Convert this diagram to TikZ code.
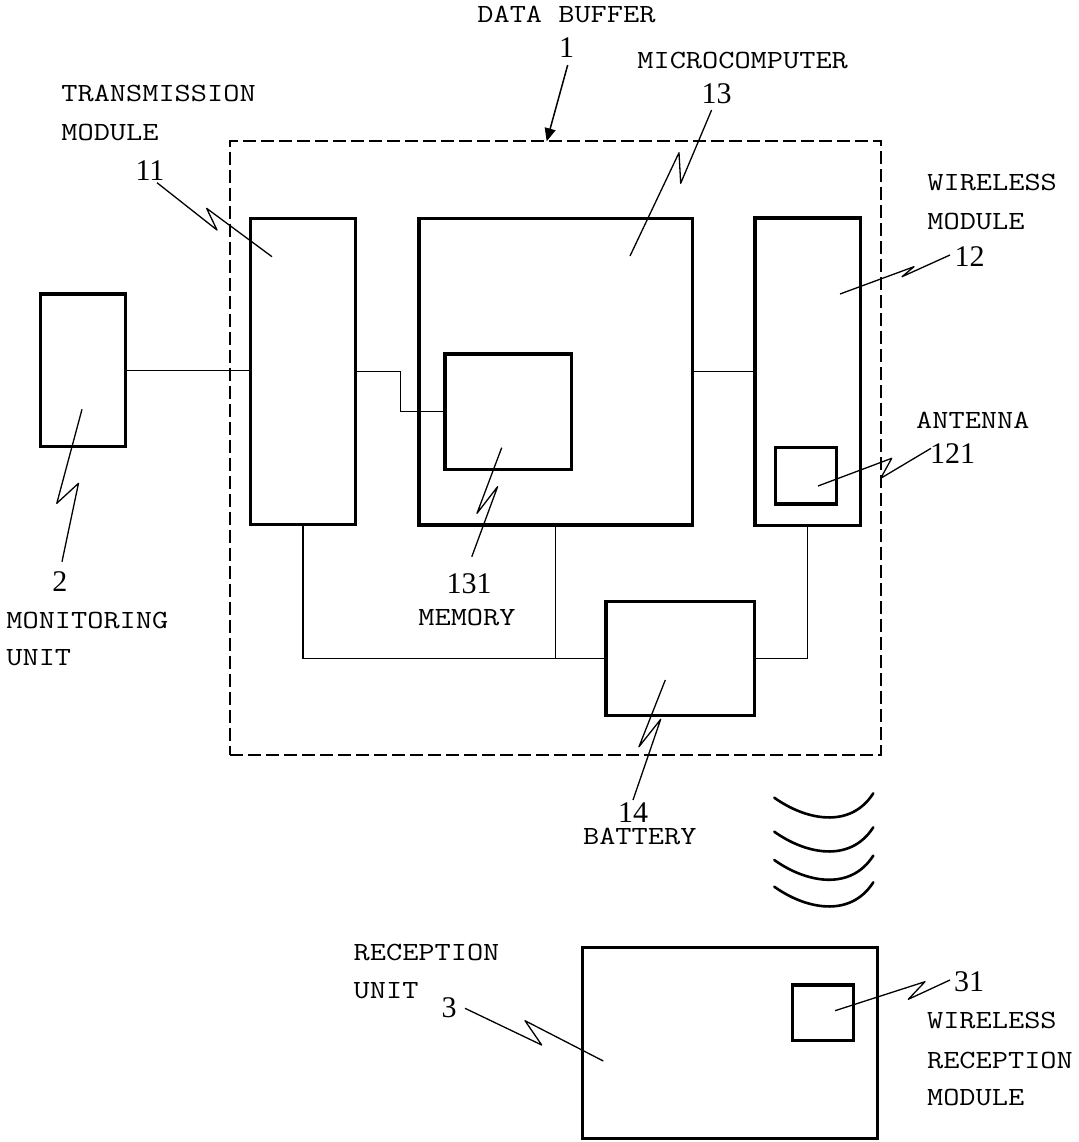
\documentclass[tikz,border=0pt]{standalone}
\usepackage{fontspec}
\usepackage{graphicx}
\newfontfamily\numfont{Liberation Serif}
\newcommand{\wide}[1]{\scalebox{1.2}[1]{#1}}
\usetikzlibrary{arrows.meta,calc,fit}
\begin{document}
\begin{tikzpicture}[x=0.5pt,y=-0.5pt,
  box/.style={draw, line width=1.6pt, rectangle, inner sep=0pt, outer sep=0pt},
  buffer/.style={draw, line width=1pt, dash pattern=on 6.5pt off 2.5pt, rectangle, inner sep=0pt, outer sep=0pt},
  wire/.style={line width=0.6pt},
  lead/.style={line width=0.65pt, line join=round},
  lbl/.style={font=\ttfamily\fontsize{13.1}{15}\selectfont, inner sep=0pt, anchor=base west},
  num/.style={font=\numfont\fontsize{15}{16}\selectfont, inner sep=0pt, anchor=base},
  wave/.style={line width=1.3pt, line cap=round}]
\useasboundingbox (0,0) rectangle (1078,1142);

% dashed data buffer
\node[buffer, fit={(230,141.3) (881,755)}] (db) {};

% boxes
\node[box, fit={(40.3,294) (125.3,446.7)}] (mon) {};
\node[box, fit={(250.3,218.3) (355.7,524.3)}] (tm) {};
\node[box, fit={(419,218.3) (692.3,525)}] (mc) {};
\node[box, fit={(445,354) (571.6,469.5)}] (mem) {};
\node[box, fit={(755,218) (860.5,525.5)}] (wm) {};
\node[box, fit={(775.5,447.3) (836.8,504)}] (ant) {};
\node[box, fit={(606,601.7) (754.3,715.7)}] (bat) {};
\node[box, fit={(582.3,947.3) (877.3,1138.3)}] (rx) {};
\node[box, fit={(792.8,985) (853.3,1040.7)}] (rxm) {};

% connections
\draw[wire] (mon.east) -- (mon.east -| tm.west);
\draw[wire] (tm.east) -- ++(44.8,0) |- (mem.west);
\draw[wire] (mc.east) -- (mc.east -| wm.west);
\draw[wire] (tm.south) |- (bat.west);
\draw[wire] (mc.south) -- (mc.south |- bat.west);
\draw[wire] (wm.south) |- (bat.east);

% text labels
\node[lbl] (tDB) at (477,22.7) {\wide{DATA BUFFER}};
\node[lbl] (tTM1) at (61,101.7) {\wide{TRANSMISSION}};
\node[lbl] (tTM2) at (61,140) {\wide{MODULE}};
\node[lbl] (tMC) at (637,68) {\wide{MICROCOMPUTER}};
\node[lbl] (tWM1) at (927,190.7) {\wide{WIRELESS}};
\node[lbl] (tWM2) at (927,229.3) {\wide{MODULE}};
\node[lbl] (tANT) at (915.8,428.3) {\wide{ANTENNA}};
\node[lbl] (tMON1) at (6,628.3) {\wide{MONITORING}};
\node[lbl] (tMON2) at (6,665.7) {\wide{UNIT}};
\node[lbl] (tMEM) at (418,625) {\wide{MEMORY}};
\node[lbl] (tBAT) at (582.7,844) {\wide{BATTERY}};
\node[lbl] (tRX1) at (353.3,960.7) {\wide{RECEPTION}};
\node[lbl] (tRX2) at (353.3,998.3) {\wide{UNIT}};
\node[lbl] (tRM1) at (926.7,1028.3) {\wide{WIRELESS}};
\node[lbl] (tRM2) at (926.7,1068.3) {\wide{RECEPTION}};
\node[lbl] (tRM3) at (926.7,1105) {\wide{MODULE}};

% reference numbers
\node[num] (n1) at (566.5,57) {1};
\node[num] (n11) at (150,180) {11};
\node[num] (n13) at (716.5,103) {13};
\node[num] (n12) at (969.5,266.7) {12};
\node[num] (n121) at (952.5,463.3) {121};
\node[num] (n2) at (60,591.7) {2};
\node[num] (n131) at (469,593.3) {131};
\node[num] (n14) at (633,822) {14};
\node[num] (n3) at (449,1017.3) {3};
\node[num] (n31) at (969,991.7) {31};

% leaders
\draw[line width=0.75pt, -{Triangle[length=6.5pt,width=5.5pt]}] (567.7,65) -- (546.7,141.3);
\draw[lead] (157,182.7) -- (217,230) -- (206.6,208.3) -- (272,256.7);
\draw[lead] (711.6,110) -- (680.7,183.3) -- (679,152.7) -- (630,256);
\draw[lead] (950,255) -- (902,276.7) -- (914,266.7) -- (840,294);
\draw[lead] (931,448.3) -- (880.7,478.3) -- (891.7,458.3) -- (818,486);
\draw[lead] (82,409.3) -- (56.8,503.3) -- (78.5,483.3) -- (62,561.7);
\draw[lead] (501.7,447.7) -- (477,513.3) -- (497.6,486.7) -- (471.8,556.7);
\draw[lead] (665.3,680) -- (639,746.7) -- (660.7,719.3) -- (633,800);
\draw[lead] (465,1008.3) -- (541.7,1045) -- (525,1020.7) -- (603.3,1061);
\draw[lead] (950,980) -- (908.3,999.3) -- (925,981.7) -- (835,1010.7);

% radio waves
\foreach \a in {797.7,831.7,860,886.7}{
  \draw[wave] (774.3,\a) .. controls (805,\a+22) and (850,\a+32) .. (873.3,\a-4.4);
}
\end{tikzpicture}
\end{document}
